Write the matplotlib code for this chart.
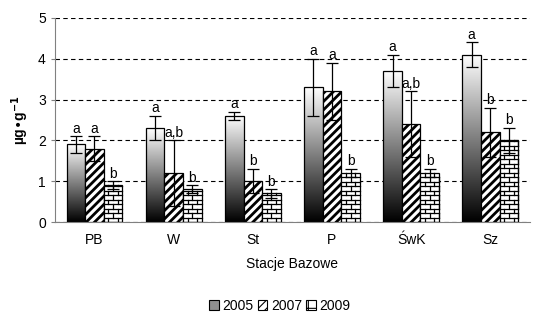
import numpy as np
import matplotlib

matplotlib.use("Agg")
import matplotlib.pyplot as plt
from matplotlib.patches import Patch
from matplotlib.lines import Line2D

plt.rcParams["font.family"] = ["Liberation Sans", "DejaVu Sans"]
plt.rcParams["hatch.linewidth"] = 2.0

stations = ["PB", "W", "St", "P", "ŚwK", "Sz"]
years = ["2005", "2007", "2009"]
v2005 = [1.9, 2.3, 2.6, 3.3, 3.7, 4.1]
v2007 = [1.8, 1.2, 1.0, 3.2, 2.4, 2.2]
v2009 = [0.9, 0.8, 0.7, 1.2, 1.2, 2.0]
e2005 = [0.2, 0.3, 0.1, 0.7, 0.4, 0.3]
e2007 = [0.3, 0.8, 0.3, 0.7, 0.8, 0.6]
e2009 = [0.1, 0.1, 0.1, 0.1, 0.1, 0.3]
l2005 = ["a", "a", "a", "a", "a", "a"]
l2007 = ["a", "a,b", "b", "a", "a,b", "b"]
l2009 = ["b", "b", "b", "b", "b", "b"]

fig = plt.figure(figsize=(5.38, 3.2), dpi=100)
ax = fig.add_axes([0.102, 0.306, 0.883, 0.638])
ax.set_xlim(-0.5, len(stations) - 0.5)
ax.set_ylim(0, 5)

w = 0.235
x = np.arange(len(stations))
grad = np.linspace(1, 0, 256).reshape(-1, 1)

# 2005: gradient bars
bars05 = ax.bar(x - w, v2005, w, facecolor="none", edgecolor="black", lw=0.9, zorder=3)
for b in bars05:
    x0, h = b.get_x(), b.get_height()
    im = ax.imshow(grad, cmap="gray", vmin=0, vmax=1, aspect="auto",
                   extent=[x0, x0 + w, 0, h], zorder=2.5, interpolation="bilinear")
    im.set_clip_path(b)

# 2007: diagonal hatch
ax.bar(x, v2007, w, facecolor="white", edgecolor="black", hatch="////", lw=0.9, zorder=3)

# 2009: brick texture
bars09 = ax.bar(x + w, v2009, w, facecolor="white", edgecolor="black", lw=0.9, zorder=3)
bh, bw = 0.11, w / 2
for b in bars09:
    x0, h = b.get_x(), b.get_height()
    row = 0
    y = 0.0
    while y < h:
        ax.add_line(Line2D([x0, x0 + w], [y, y], color="black", lw=0.9, zorder=3.1,
                           clip_path=b))
        off = bw / 2 if row % 2 else 0.0
        xs = x0 + off + bw / 2
        while xs < x0 + w:
            ax.add_line(Line2D([xs, xs], [y, min(y + bh, h)], color="black", lw=0.9,
                               zorder=3.1, clip_path=b))
            xs += bw
        y += bh
        row += 1

for off, vals, errs, labs in [(-w, v2005, e2005, l2005), (0, v2007, e2007, l2007),
                              (w, v2009, e2009, l2009)]:
    ax.errorbar(x + off, vals, yerr=errs, fmt="none", ecolor="black", elinewidth=0.9,
                capsize=4, capthick=0.9, zorder=4)
    for xi, v, e, t in zip(x + off, vals, errs, labs):
        ax.annotate(t, (xi, v + e), xytext=(0, 0.5), textcoords="offset points",
                    ha="center", va="bottom", fontsize=10)

ax.set_yticks(range(6))
ax.yaxis.grid(True, linestyle=(0, (4, 3)), color="black", lw=0.8)
ax.set_axisbelow(True)
ax.set_xticks(x)
ax.set_xticklabels(stations)
ax.tick_params(axis="x", length=0, pad=8, labelsize=10)
ax.tick_params(axis="y", length=3, color="#808080", labelsize=10)
for s in ["top", "right"]:
    ax.spines[s].set_visible(False)
for s in ["left", "bottom"]:
    ax.spines[s].set_color("#808080")
ax.set_xlabel("Stacje Bazowe", fontsize=10, labelpad=7)
ax.set_ylabel("µg•g$^{\\mathbf{-1}}$", fontsize=10, fontweight="bold", labelpad=5)

plt.rcParams["hatch.linewidth"] = 0.8
handles = [Patch(facecolor="#909090", edgecolor="black", lw=0.8),
           Patch(facecolor="white", edgecolor="black", hatch="////", lw=0.8),
           Patch(facecolor="white", edgecolor="black", hatch="+", lw=0.8)]
fig.legend(handles, years, loc="center", bbox_to_anchor=(0.52, 0.045), ncol=3,
           frameon=False, fontsize=10, handlelength=0.7, handleheight=0.7,
           handletextpad=0.25, columnspacing=0.3)

fig.savefig("out.png", dpi=100)
